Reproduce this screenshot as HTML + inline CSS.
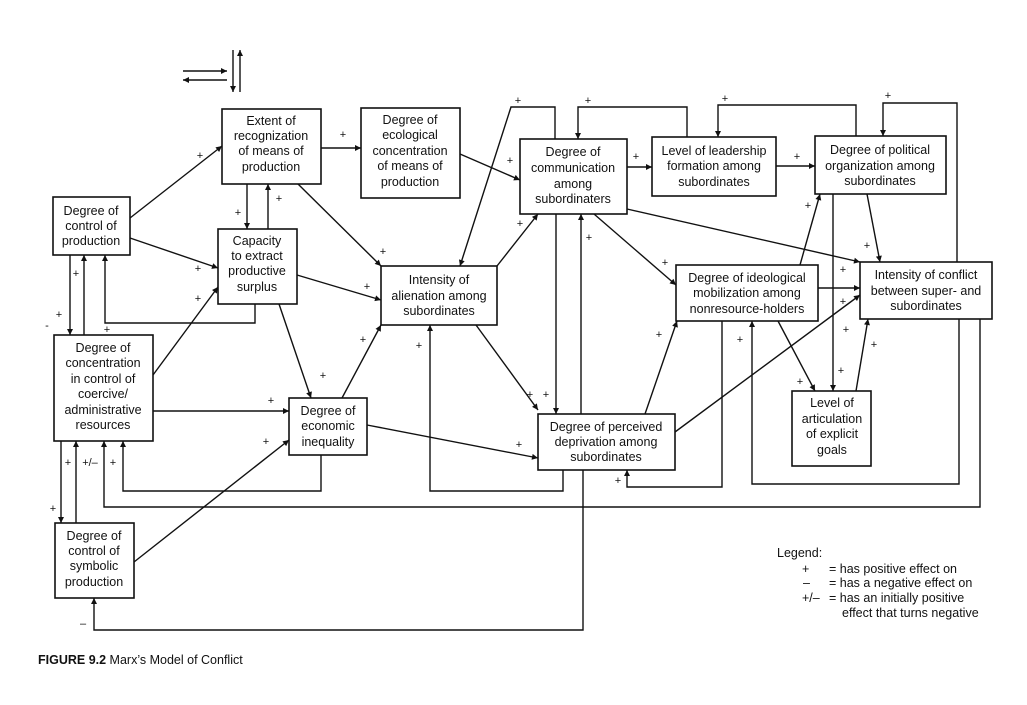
<!DOCTYPE html>
<html><head><meta charset="utf-8"><style>
html,body{margin:0;padding:0;background:#fff;}
svg{display:block;}
text{font-family:"Liberation Sans",sans-serif;fill:#111;}
.b{font-size:12.5px;text-anchor:middle;}
.p{font-size:11px;text-anchor:middle;}
</style></head><body>
<svg width="1027" height="705" viewBox="0 0 1027 705" xmlns="http://www.w3.org/2000/svg">
<defs><marker id="a" viewBox="0 0 10 10" refX="10" refY="5" markerWidth="7" markerHeight="6" orient="auto" markerUnits="userSpaceOnUse"><path d="M0,0 L10,5 L0,10 z" fill="#111"/></marker></defs>
<g fill="none" stroke="#111" stroke-width="1.6">
<rect x="222" y="109" width="99" height="75"/>
<rect x="361" y="108" width="99" height="90"/>
<rect x="53" y="197" width="77" height="58"/>
<rect x="218" y="229" width="79" height="75"/>
<rect x="381" y="266" width="116" height="59"/>
<rect x="54" y="335" width="99" height="106"/>
<rect x="289" y="398" width="78" height="57"/>
<rect x="55" y="523" width="79" height="75"/>
<rect x="520" y="139" width="107" height="75"/>
<rect x="652" y="137" width="124" height="59"/>
<rect x="815" y="136" width="131" height="58"/>
<rect x="676" y="265" width="142" height="56"/>
<rect x="860" y="262" width="132" height="57"/>
<rect x="792" y="391" width="79" height="75"/>
<rect x="538" y="414" width="137" height="56"/>
</g>
<g fill="none" stroke="#111" stroke-width="1.4" marker-end="url(#a)">
<line x1="183" y1="71" x2="227" y2="71"/>
<line x1="227" y1="80" x2="183" y2="80"/>
<line x1="233" y1="50" x2="233" y2="92"/>
<line x1="240" y1="92" x2="240" y2="50"/>
<line x1="130" y1="218" x2="222" y2="146"/>
<line x1="130" y1="238" x2="218" y2="268"/>
<line x1="321" y1="148" x2="361" y2="148"/>
<line x1="247" y1="184" x2="247" y2="229"/>
<line x1="268" y1="229" x2="268" y2="184"/>
<line x1="298" y1="184" x2="381" y2="266"/>
<line x1="297" y1="275" x2="381" y2="300"/>
<line x1="279" y1="304" x2="311" y2="398"/>
<line x1="153" y1="375" x2="218" y2="287"/>
<line x1="153" y1="411" x2="289" y2="411"/>
<line x1="134" y1="562" x2="289" y2="440"/>
<line x1="342" y1="398" x2="381" y2="325"/>
<line x1="367" y1="425" x2="538" y2="458"/>
<line x1="460" y1="154" x2="520" y2="180"/>
<line x1="497" y1="266" x2="538" y2="214"/>
<line x1="476" y1="325" x2="538" y2="410"/>
<line x1="556" y1="214" x2="556" y2="414"/>
<line x1="581" y1="414" x2="581" y2="214"/>
<line x1="627" y1="167" x2="652" y2="167"/>
<line x1="776" y1="166" x2="815" y2="166"/>
<line x1="594" y1="214" x2="676" y2="285"/>
<line x1="627" y1="209" x2="860" y2="262"/>
<line x1="645" y1="414" x2="677" y2="321"/>
<line x1="675" y1="432" x2="860" y2="295"/>
<line x1="818" y1="288" x2="860" y2="288"/>
<line x1="800" y1="265" x2="820" y2="194"/>
<line x1="778" y1="321" x2="815" y2="391"/>
<line x1="833" y1="194" x2="833" y2="391"/>
<line x1="867" y1="194" x2="880" y2="262"/>
<line x1="856" y1="391" x2="868" y2="319"/>
<line x1="70" y1="255" x2="70" y2="335"/>
<line x1="84" y1="335" x2="84" y2="255"/>
<line x1="61" y1="441" x2="61" y2="523"/>
<line x1="76" y1="523" x2="76" y2="441"/>
<polyline points="255,304 255,323 105,323 105,255"/>
<polyline points="321,455 321,491 123,491 123,441"/>
<polyline points="563,470 563,491 430,491 430,325"/>
<polyline points="980,319 980,507 104,507 104,441"/>
<polyline points="959,319 959,484 752,484 752,321"/>
<polyline points="722,321 722,487 627,487 627,470"/>
<polyline points="583,470 583,630 94,630 94,598"/>
<polyline points="555,139 555,107 511,107 460,266"/>
<polyline points="687,137 687,107 578,107 578,139"/>
<polyline points="856,136 856,105 718,105 718,137"/>
<polyline points="957,262 957,103 883,103 883,136"/>
</g>
<g>
<text class="b" x="271" y="125">Extent of</text><text class="b" x="271" y="140">recognization</text><text class="b" x="271" y="155">of means of</text><text class="b" x="271" y="171">production</text>
<text class="b" x="410" y="124">Degree of</text><text class="b" x="410" y="139">ecological</text><text class="b" x="410" y="155">concentration</text><text class="b" x="410" y="170">of means of</text><text class="b" x="410" y="186">production</text>
<text class="b" x="91" y="215">Degree of</text><text class="b" x="91" y="230">control of</text><text class="b" x="91" y="245">production</text>
<text class="b" x="257" y="245">Capacity</text><text class="b" x="257" y="260">to extract</text><text class="b" x="257" y="275">productive</text><text class="b" x="257" y="291">surplus</text>
<text class="b" x="439" y="284">Intensity of</text><text class="b" x="439" y="300">alienation among</text><text class="b" x="439" y="315">subordinates</text>
<text class="b" x="103" y="352">Degree of</text><text class="b" x="103" y="367">concentration</text><text class="b" x="103" y="383">in control of</text><text class="b" x="103" y="398">coercive/</text><text class="b" x="103" y="414">administrative</text><text class="b" x="103" y="429">resources</text>
<text class="b" x="328" y="415">Degree of</text><text class="b" x="328" y="430">economic</text><text class="b" x="328" y="446">inequality</text>
<text class="b" x="94" y="540">Degree of</text><text class="b" x="94" y="555">control of</text><text class="b" x="94" y="570">symbolic</text><text class="b" x="94" y="586">production</text>
<text class="b" x="573" y="156">Degree of</text><text class="b" x="573" y="172">communication</text><text class="b" x="573" y="188">among</text><text class="b" x="573" y="203">subordinaters</text>
<text class="b" x="714" y="155">Level of leadership</text><text class="b" x="714" y="170">formation among</text><text class="b" x="714" y="186">subordinates</text>
<text class="b" x="880" y="154">Degree of political</text><text class="b" x="880" y="170">organization among</text><text class="b" x="880" y="185">subordinates</text>
<text class="b" x="747" y="282">Degree of ideological</text><text class="b" x="747" y="297">mobilization among</text><text class="b" x="747" y="313">nonresource-holders</text>
<text class="b" x="926" y="279">Intensity of conflict</text><text class="b" x="926" y="295">between super- and</text><text class="b" x="926" y="310">subordinates</text>
<text class="b" x="832" y="407">Level of</text><text class="b" x="832" y="423">articulation</text><text class="b" x="832" y="438">of explicit</text><text class="b" x="832" y="454">goals</text>
<text class="b" x="606" y="431">Degree of perceived</text><text class="b" x="606" y="446">deprivation among</text><text class="b" x="606" y="461">subordinates</text>
</g>
<g>
<text class="p" x="200" y="159">+</text><text class="p" x="343" y="138">+</text><text class="p" x="238" y="216">+</text><text class="p" x="279" y="202">+</text>
<text class="p" x="383" y="255">+</text><text class="p" x="198" y="272">+</text><text class="p" x="198" y="302">+</text><text class="p" x="367" y="290">+</text>
<text class="p" x="76" y="277">+</text><text class="p" x="59" y="318">+</text><text class="p" x="47" y="329">-</text><text class="p" x="107" y="333">+</text>
<text class="p" x="363" y="343">+</text><text class="p" x="419" y="349">+</text><text class="p" x="323" y="379">+</text><text class="p" x="271" y="404">+</text>
<text class="p" x="266" y="445">+</text><text class="p" x="68" y="466">+</text><text class="p" x="90" y="466">+/–</text><text class="p" x="113" y="466">+</text>
<text class="p" x="53" y="512">+</text><text class="p" x="83" y="627">–</text>
<text class="p" x="518" y="104">+</text><text class="p" x="588" y="104">+</text><text class="p" x="725" y="102">+</text><text class="p" x="888" y="99">+</text>
<text class="p" x="510" y="164">+</text><text class="p" x="636" y="160">+</text><text class="p" x="797" y="160">+</text><text class="p" x="520" y="227">+</text>
<text class="p" x="589" y="241">+</text><text class="p" x="665" y="266">+</text><text class="p" x="808" y="209">+</text><text class="p" x="867" y="249">+</text>
<text class="p" x="843" y="273">+</text><text class="p" x="843" y="305">+</text><text class="p" x="846" y="333">+</text><text class="p" x="740" y="343">+</text>
<text class="p" x="874" y="348">+</text><text class="p" x="659" y="338">+</text><text class="p" x="841" y="374">+</text><text class="p" x="800" y="385">+</text>
<text class="p" x="530" y="398">+</text><text class="p" x="546" y="398">+</text><text class="p" x="519" y="448">+</text><text class="p" x="618" y="484">+</text>
</g>
<g style="font-size:12.5px">
<text x="777" y="557">Legend:</text>
<text x="802" y="573">+</text><text x="829" y="573">= has positive effect on</text>
<text x="803" y="587">–</text><text x="829" y="587">= has a negative effect on</text>
<text x="802" y="602">+/–</text><text x="829" y="602">= has an initially positive</text>
<text x="842" y="617">effect that turns negative</text>
</g>
<text x="38" y="664" style="font-size:12.5px"><tspan font-weight="bold">FIGURE 9.2</tspan>  Marx’s Model of Conflict</text>
</svg>
</body></html>
